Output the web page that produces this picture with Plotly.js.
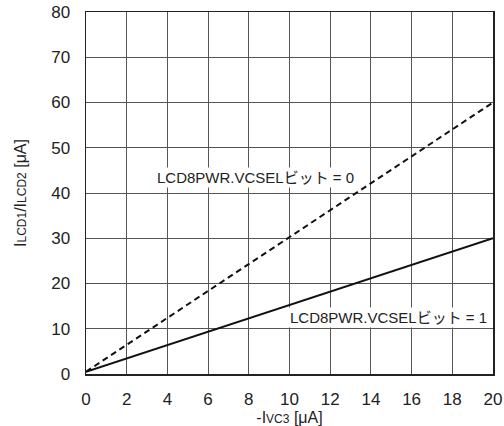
<!DOCTYPE html>
<html><head><meta charset="utf-8">
<script src="https://cdn.plot.ly/plotly-3.0.1.min.js"></script>
<style>html,body{margin:0;padding:0;background:#fff}</style>
</head><body>
<div id="chart" style="width:504px;height:426px"></div>
<script>
const xVals = [0, 20];
const vcsel0 = [0.5, 60];
const vcsel1 = [0.5, 30];
const xTicks = [0, 2, 4, 6, 8, 10, 12, 14, 16, 18, 20];
const yTicks = [0, 10, 20, 30, 40, 50, 60, 70, 80];
const label0 = "LCD8PWR.VCSELビット = 0";
const label1 = "LCD8PWR.VCSELビット = 1";
const FONT = "Liberation Sans, Arial, Helvetica, Noto Sans CJK JP, sans-serif";

const traces = [
  {x: xVals, y: vcsel0, mode: "lines", line: {color: "#111", width: 2, dash: "6px,4px"}, hoverinfo: "skip"},
  {x: xVals, y: vcsel1, mode: "lines", line: {color: "#111", width: 2}, hoverinfo: "skip"}
];
const layout = {
  width: 504, height: 426,
  margin: {l: 86, r: 11, t: 12, b: 52},
  paper_bgcolor: "#fff", plot_bgcolor: "#fff",
  showlegend: false,
  font: {family: FONT, size: 17, color: "#222"},
  xaxis: {
    range: [0, 20], tickvals: xTicks, ticktext: xTicks.map(String),
    showgrid: true, gridcolor: "#555", gridwidth: 1,
    zeroline: false, showline: true, linecolor: "#222", linewidth: 1.5, mirror: true,
    ticks: "", ticklabelstandoff: 9, tickfont: {size: 17},
    title: {text: "-I<span style=\"font-size:12px\">VC3</span> [μA]", font: {size: 16}, standoff: 4}
  },
  yaxis: {
    range: [0, 80], tickvals: yTicks, ticktext: yTicks.map(String),
    showgrid: true, gridcolor: "#555", gridwidth: 1,
    zeroline: false, showline: true, linecolor: "#222", linewidth: 1.5, mirror: true,
    ticks: "", ticklabelstandoff: 11, tickfont: {size: 17},
    title: {text: "I<span style=\"font-size:12px\">LCD1</span>/I<span style=\"font-size:12px\">LCD2</span> [μA]", font: {size: 16}, standoff: 20}
  },
  annotations: [
    {x: 3.4, y: 43.5, xref: "x", yref: "y", xanchor: "left", yanchor: "middle", text: label0,
     showarrow: false, bgcolor: "#fff", borderpad: 1, font: {size: 15, color: "#222"}},
    {x: 9.95, y: 12.4, xref: "x", yref: "y", xanchor: "left", yanchor: "middle", text: label1,
     showarrow: false, bgcolor: "#fff", borderpad: 1, font: {size: 15, color: "#222"}}
  ]
};
Plotly.newPlot("chart", traces, layout, {displayModeBar: false, staticPlot: true});
</script>
</body></html>
